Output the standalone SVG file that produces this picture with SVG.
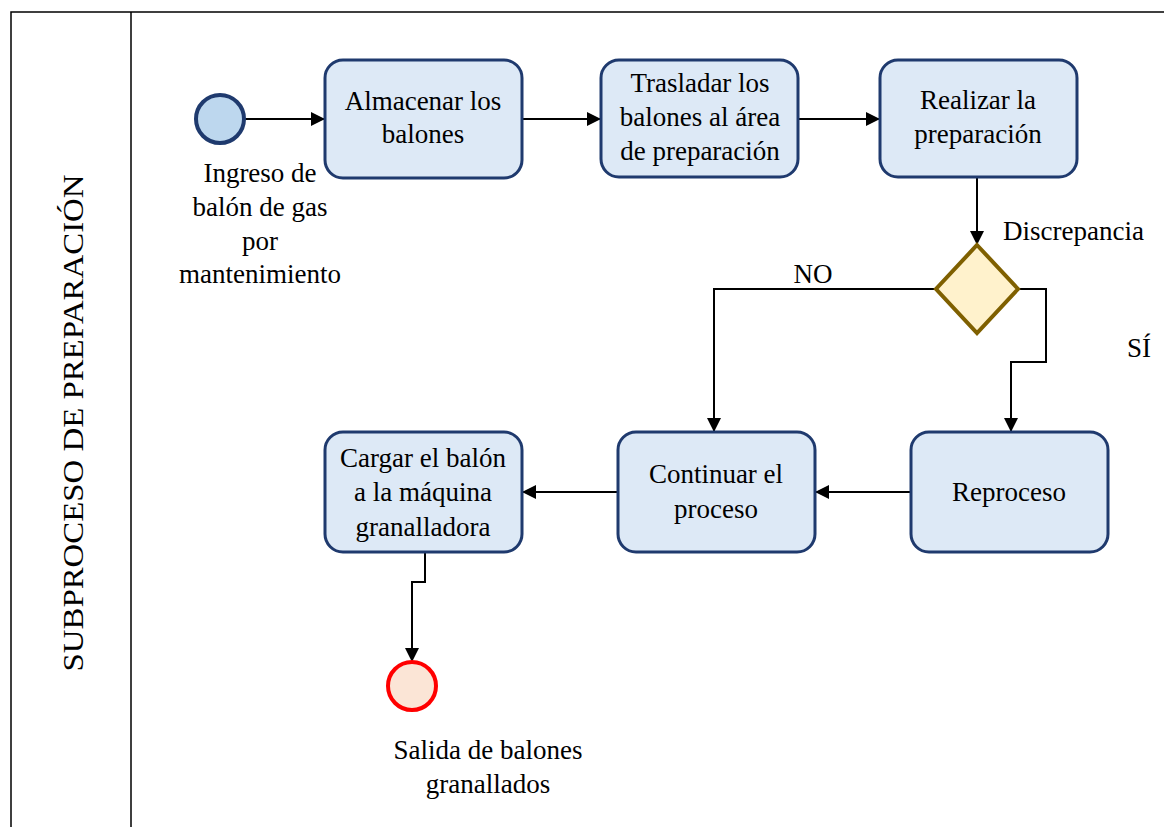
<svg xmlns="http://www.w3.org/2000/svg" width="1164" height="827" viewBox="0 0 1164 827">
  <style>
    .lane { fill: none; stroke: #000; stroke-width: 1.5; }
    .task { fill: #dde9f6; stroke: #1f3a6e; stroke-width: 3; }
    .lbl { font-family: "Liberation Serif", "DejaVu Serif", "Times New Roman", Times, serif; font-size: 27px; fill: #000; text-anchor: middle; }
    .lbl-start { font-family: "Liberation Serif", "DejaVu Serif", "Times New Roman", Times, serif; font-size: 27px; fill: #000; }
    .flow { fill: none; stroke: #000; stroke-width: 2; marker-end: url(#arrow); }
  </style>
  <defs>
    <marker id="arrow" viewBox="0 0 10 10" refX="10" refY="5" markerWidth="14" markerHeight="14" markerUnits="userSpaceOnUse" orient="auto">
      <path d="M0,0 L10,5 L0,10 z" fill="#000"/>
    </marker>
  </defs>

  <rect width="1164" height="827" fill="#fff"/>

  <!-- swimlane frame -->
  <g id="lane">
    <path class="lane" d="M11,827 V12 H1164 M131,12 V827"/>
    <text class="lbl" transform="translate(83,423) rotate(-90)" style="font-size:30px" textLength="497" lengthAdjust="spacingAndGlyphs">SUBPROCESO DE PREPARACIÓN</text>
  </g>

  <!-- connectors -->
  <g id="connectors">
    <path class="flow" d="M245,119 H325"/>
    <path class="flow" d="M522,119 H601"/>
    <path class="flow" d="M798,119 H880"/>
    <path class="flow" d="M977,177 V245"/>
    <path class="flow" d="M936,289 H714 V432"/>
    <path class="flow" d="M1018,289 H1046 V362 H1011 V432"/>
    <path class="flow" d="M911,492 H815"/>
    <path class="flow" d="M618,492 H522"/>
    <path class="flow" d="M425,552 V582 H412 V662"/>
    <text class="lbl" x="813" y="283">NO</text>
    <text class="lbl" x="1139" y="357">SÍ</text>
    <text class="lbl-start" x="1003" y="240">Discrepancia</text>
  </g>

  <!-- start event -->
  <g id="start">
    <circle cx="220" cy="119" r="24" fill="#bdd7ee" stroke="#1f3a6e" stroke-width="4"/>
    <text class="lbl" x="260" y="182">Ingreso de</text>
    <text class="lbl" x="260" y="216">balón de gas</text>
    <text class="lbl" x="260" y="250">por</text>
    <text class="lbl" x="260" y="283">mantenimiento</text>
  </g>

  <g id="almacenar">
    <rect class="task" x="325" y="60" width="197" height="118" rx="18"/>
    <text class="lbl" x="423" y="110">Almacenar los</text>
    <text class="lbl" x="423" y="143">balones</text>
  </g>

  <g id="trasladar">
    <rect class="task" x="601" y="60" width="197" height="117" rx="18"/>
    <text class="lbl" x="700" y="92">Trasladar los</text>
    <text class="lbl" x="700" y="126">balones al área</text>
    <text class="lbl" x="700" y="160">de preparación</text>
  </g>

  <g id="realizar">
    <rect class="task" x="880" y="60" width="197" height="117" rx="18"/>
    <text class="lbl" x="978" y="109">Realizar la</text>
    <text class="lbl" x="978" y="143">preparación</text>
  </g>

  <g id="gateway">
    <polygon points="977,245 1018,289 977,333 936,289" fill="#fff2cc" stroke="#7f6000" stroke-width="4"/>
  </g>

  <g id="reproceso">
    <rect class="task" x="911" y="432" width="197" height="120" rx="18"/>
    <text class="lbl" x="1009" y="501">Reproceso</text>
  </g>

  <g id="continuar">
    <rect class="task" x="618" y="432" width="197" height="120" rx="18"/>
    <text class="lbl" x="716" y="483">Continuar el</text>
    <text class="lbl" x="716" y="518">proceso</text>
  </g>

  <g id="cargar">
    <rect class="task" x="325" y="432" width="197" height="120" rx="18"/>
    <text class="lbl" x="423" y="467">Cargar el balón</text>
    <text class="lbl" x="423" y="501">a la máquina</text>
    <text class="lbl" x="423" y="536">granalladora</text>
  </g>

  <!-- end event -->
  <g id="end">
    <circle cx="412" cy="686" r="24" fill="#fbe5d6" stroke="#ff0000" stroke-width="4"/>
    <text class="lbl" x="488" y="759">Salida de balones</text>
    <text class="lbl" x="488" y="793">granallados</text>
  </g>
</svg>
